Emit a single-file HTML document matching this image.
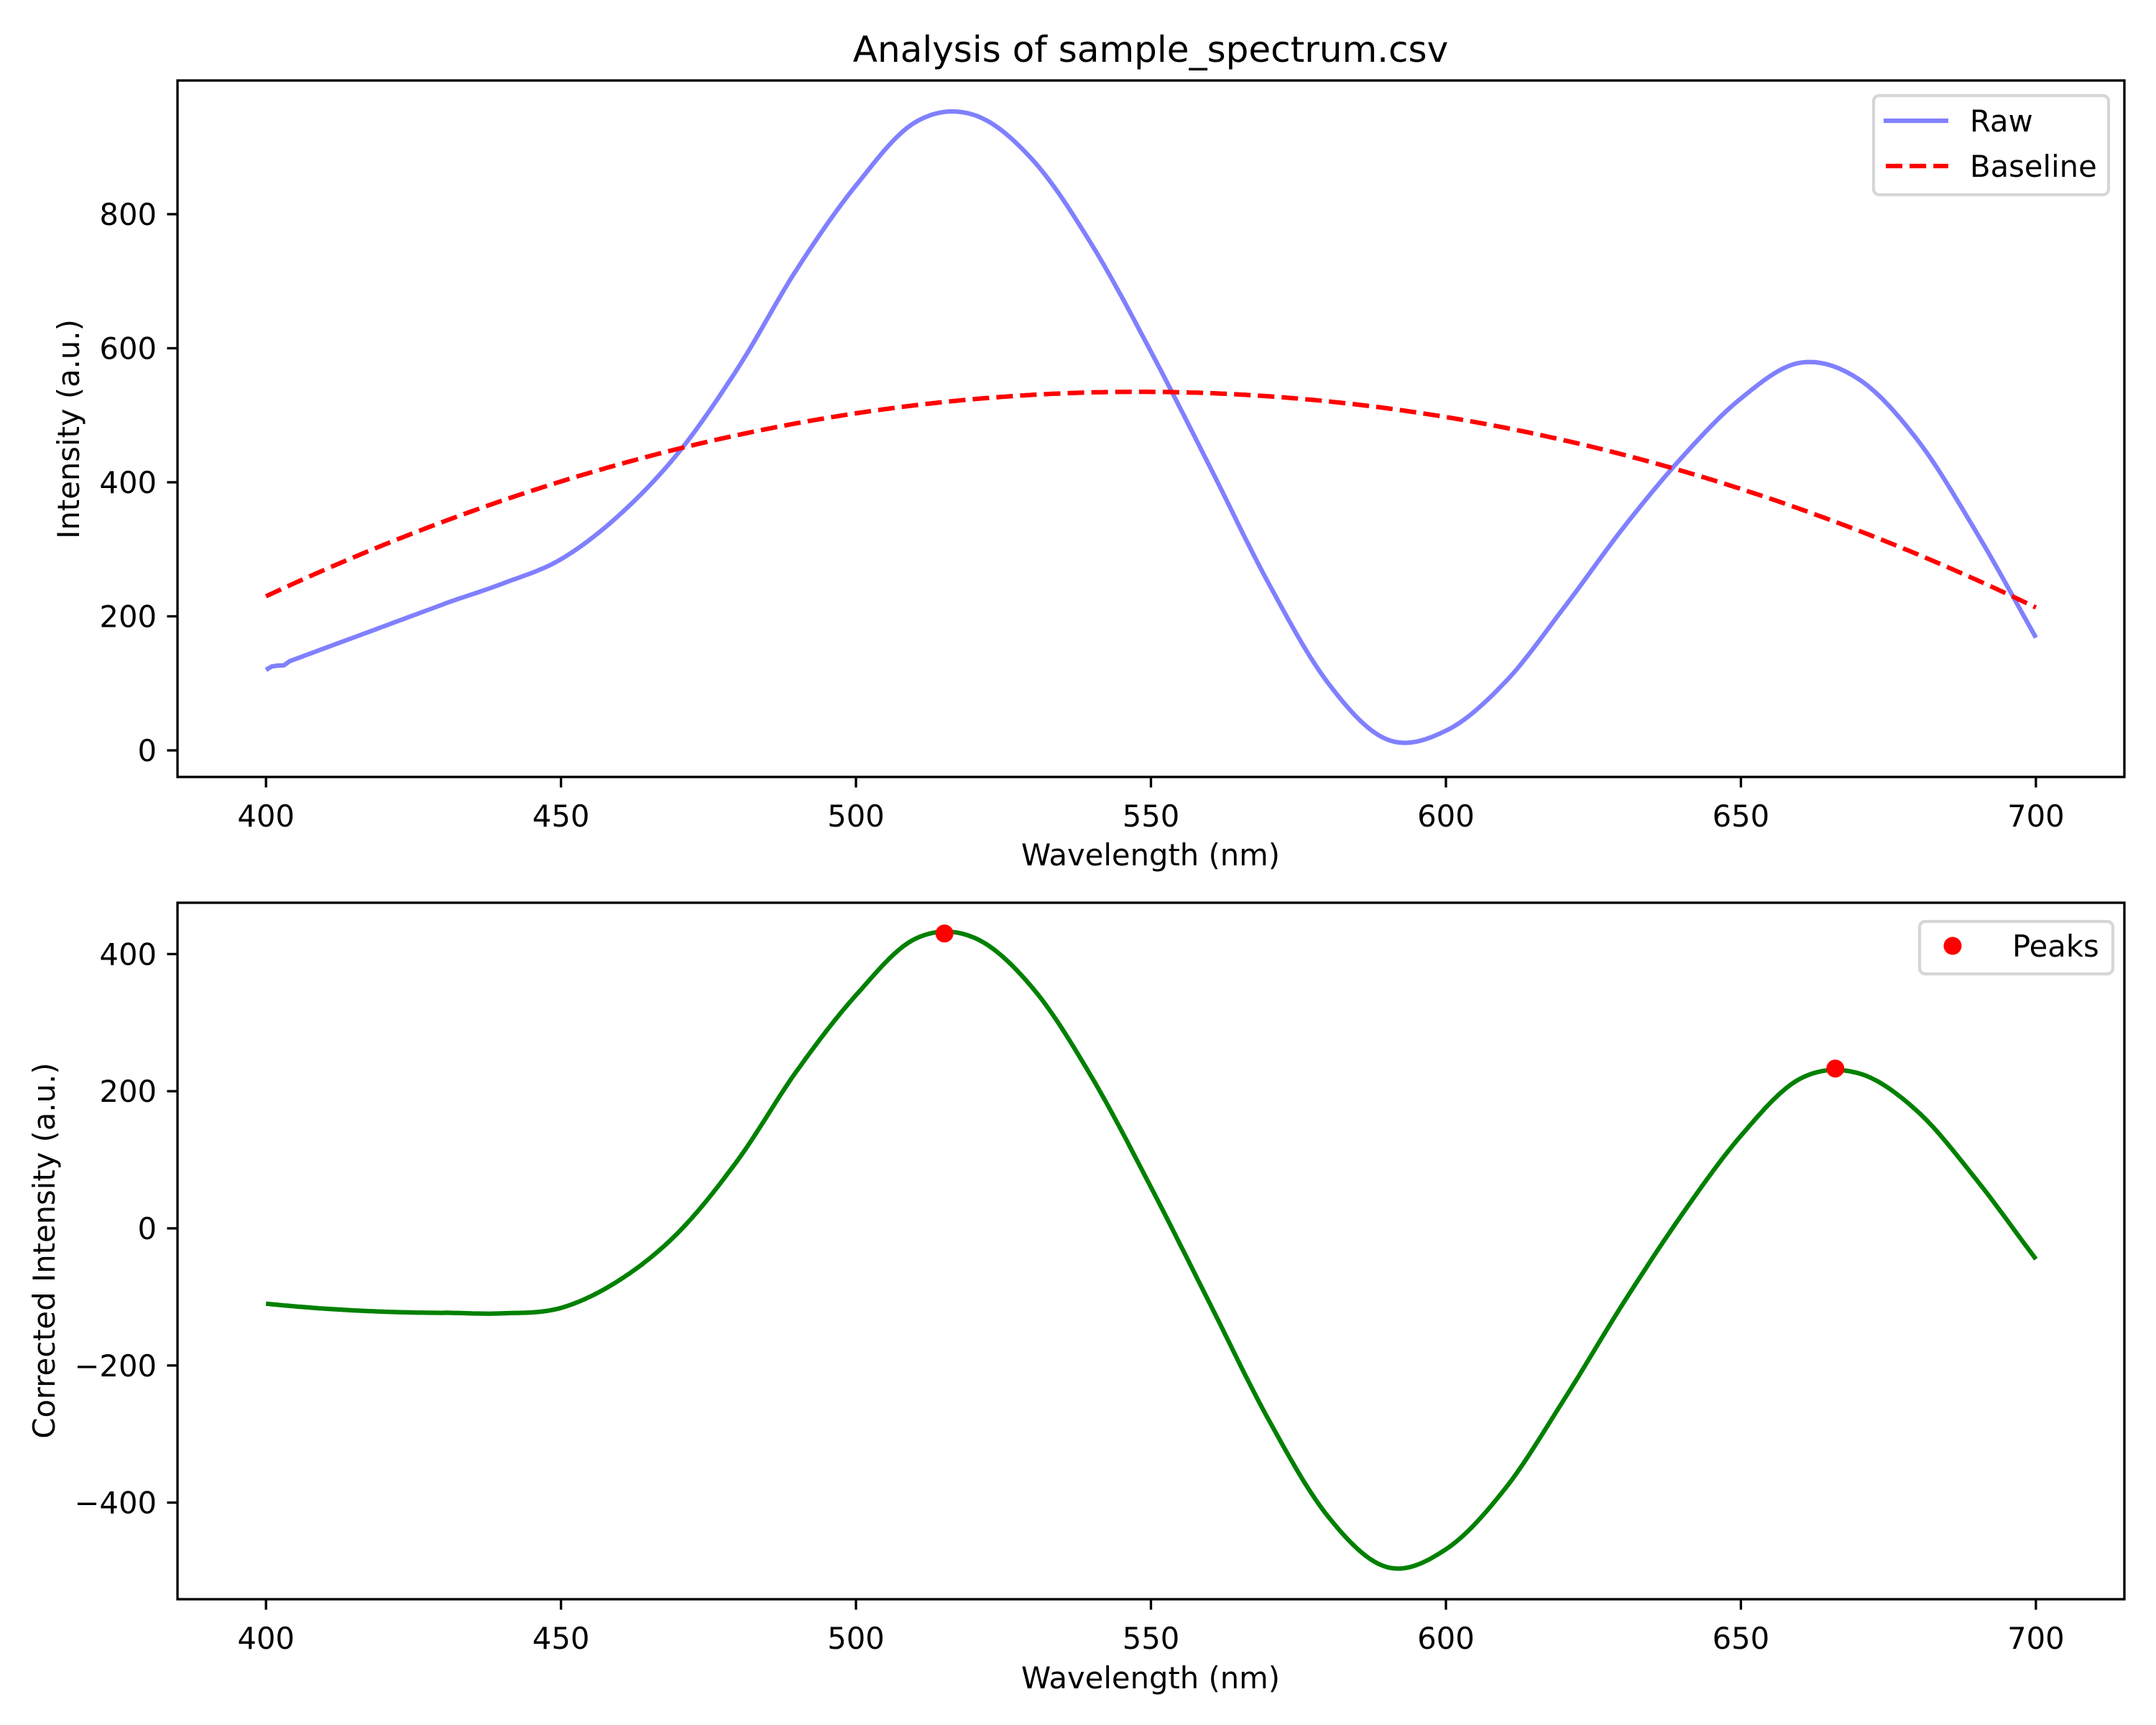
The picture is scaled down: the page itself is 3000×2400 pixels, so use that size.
<!DOCTYPE html>
<html><head><meta charset="utf-8"><style>
html,body{margin:0;padding:0;background:#fff;}
svg{display:block;}
text{font-family:"DejaVu Sans","Liberation Sans",sans-serif;fill:#000;}
</style></head><body>
<svg id="s" width="3000" height="2400" viewBox="0 0 3000 2400" xmlns="http://www.w3.org/2000/svg">
<rect width="3000" height="2400" fill="#fff"/>
<g id="g"></g>
<text x="1601" y="86" font-size="50" text-anchor="middle">Analysis of sample_spectrum.csv</text>
<text x="1601" y="1204" font-size="41.7" text-anchor="middle">Wavelength (nm)</text>
<text x="1601" y="2349" font-size="41.7" text-anchor="middle">Wavelength (nm)</text>
<text transform="translate(110,597) rotate(-90)" font-size="41.7" text-anchor="middle">Intensity (a.u.)</text>
<text transform="translate(76,1740) rotate(-90)" font-size="41.7" text-anchor="middle">Corrected Intensity (a.u.)</text>
</svg>
<script>
(function(){
const NS="http://www.w3.org/2000/svg";
const g=document.getElementById('g');
function el(t,a,txt){const e=document.createElementNS(NS,t);for(const k in a)e.setAttribute(k,a[k]);if(txt!==undefined)e.textContent=txt;g.appendChild(e);return e;}
const L=247,R=2956;
const X=x=>L+(x-385)*(R-L)/330;
const T1=112,B1=1081,T2=1256,B2=2225;
const Y1=v=>1044-v*0.9325;
const Y2=v=>1709-v*0.954;
const base=x=>535-0.01393*(x-548)*(x-548);
const cp=[[430,-123],[440,-124],[450,-116],[460,-75],[470,-5],[480,100],[490,230],[500,340],[510,422],[520,424],[530,350],[540,220],[550,60],[560,-110],[570,-280],[580,-420],[590,-494],[600,-468],[610,-380],[620,-250],[630,-110],[640,20],[650,135],[660,218],[670,226],[680,170],[690,70],[700,-45]];
function cr(pts,x){
 let i=0;while(i<pts.length-2&&pts[i+1][0]<x)i++;
 const p0=pts[Math.max(i-1,0)],p1=pts[i],p2=pts[i+1],p3=pts[Math.min(i+2,pts.length-1)];
 const t=(x-p1[0])/(p2[0]-p1[0]);
 const h=p2[0]-p1[0];
 const m1=(p2[1]-p0[1])/(p2[0]-p0[0])*h, m2=(p3[1]-p1[1])/(p3[0]-p1[0])*h;
 const t2=t*t,t3=t2*t;
 return (2*t3-3*t2+1)*p1[1]+(t3-2*t2+t)*m1+(-2*t3+3*t2)*p2[1]+(t3-t2)*m2;
}
function linraw(x){return 120+(283-120)*(x-400)/50;}
function corr(x){
 if(x<=430) return linraw(x)-base(x);
 return cr(cp,x);
}
function raw(x){
 if(x<=430){let r=linraw(x); if(x<404)r+=(x<402?2:-3)*(1-Math.abs(x-(x<402?401:403)));return r;}
 return cr(cp,x)+base(x);
}
let dr="",db="",dc="";
for(let x=400;x<=700.001;x+=0.5){
 dr+=(x==400?"M":"L")+X(x).toFixed(1)+","+Y1(raw(x)).toFixed(1);
 db+=(x==400?"M":"L")+X(x).toFixed(1)+","+Y1(base(x)).toFixed(1);
 dc+=(x==400?"M":"L")+X(x).toFixed(1)+","+Y2(corr(x)).toFixed(1);
}
el('path',{d:dr,fill:'none',stroke:'#8080ff','stroke-width':6.25,'stroke-linejoin':'round'});
el('path',{d:db,fill:'none',stroke:'#ff0000','stroke-width':6.25,'stroke-dasharray':'23.1 10'});
el('path',{d:dc,fill:'none',stroke:'#008000','stroke-width':6.25,'stroke-linejoin':'round'});
el('circle',{cx:X(515),cy:Y2(430),r:12.5,fill:'#ff0000'});
el('circle',{cx:X(666),cy:Y2(233),r:12.5,fill:'#ff0000'});
el('rect',{x:L,y:T1,width:R-L,height:B1-T1,fill:'none',stroke:'#000','stroke-width':3.33});
el('rect',{x:L,y:T2,width:R-L,height:B2-T2,fill:'none',stroke:'#000','stroke-width':3.33});
[[B1,1150],[B2,2294]].forEach(([b,ty])=>{
 for(let v=400;v<=700;v+=50){
  el('line',{x1:X(v),y1:b,x2:X(v),y2:b+14.6,stroke:'#000','stroke-width':3.33});
  el('text',{x:X(v),y:ty,'font-size':41.7,'text-anchor':'middle'},String(v));
 }
});
for(let v=0;v<=800;v+=200){
 el('line',{x1:L,y1:Y1(v),x2:L-14.6,y2:Y1(v),stroke:'#000','stroke-width':3.33});
 el('text',{x:218,y:Y1(v)+15,'font-size':41.7,'text-anchor':'end'},String(v));
}
for(let v=-400;v<=400;v+=200){
 el('line',{x1:L,y1:Y2(v),x2:L-14.6,y2:Y2(v),stroke:'#000','stroke-width':3.33});
 el('text',{x:218,y:Y2(v)+15,'font-size':41.7,'text-anchor':'end'},v<0?'\u2212'+(-v):String(v));
}
el('rect',{x:2607,y:133,width:327,height:138,rx:8,fill:'#fff','fill-opacity':0.8,stroke:'#d6d6d6','stroke-width':4.2});
el('line',{x1:2621,y1:168,x2:2711,y2:168,stroke:'#8080ff','stroke-width':6.25});
el('text',{x:2741,y:183,'font-size':41.7},'Raw');
el('line',{x1:2624,y1:231,x2:2711,y2:231,stroke:'#ff0000','stroke-width':6.25,'stroke-dasharray':'23.1 10'});
el('text',{x:2741,y:246,'font-size':41.7},'Baseline');
el('rect',{x:2671,y:1282,width:269,height:73,rx:8,fill:'#fff','fill-opacity':0.8,stroke:'#d6d6d6','stroke-width':4.2});
el('circle',{cx:2717,cy:1316,r:12.5,fill:'#ff0000'});
el('text',{x:2800,y:1331,'font-size':41.7},'Peaks');
})();
</script>
</body></html>
